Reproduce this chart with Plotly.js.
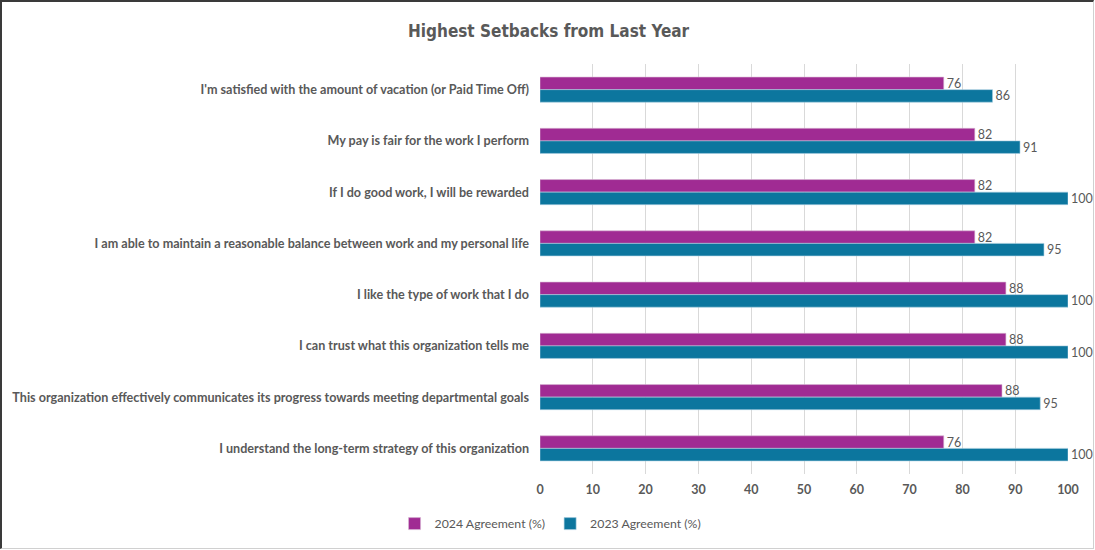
<!DOCTYPE html>
<html>
<head>
<meta charset="utf-8">
<script src="https://cdn.plot.ly/plotly-3.0.1.min.js"></script>
<style>
  html, body { margin: 0; padding: 0; background: #fff; }
  #wrap { position: relative; width: 1095px; height: 550px; }
  #chart { width: 1095px; height: 550px; }
  #frame { position: absolute; left: 0; top: 0; width: 1094px; height: 549px;
           border-top: 2px solid #3a3a3a; border-left: 2px solid #3a3a3a;
           border-right: 1px solid #d0d0d0; border-bottom: 1px solid #d0d0d0;
           box-sizing: border-box; pointer-events: none; }
</style>
</head>
<body>
<div id="wrap"><div id="chart"></div><div id="frame"></div></div>
<script>
const categories = [
  "I'm satisfied with the amount of vacation (or Paid Time Off)",
  "My pay is fair for the work I perform",
  "If I do good work, I will be rewarded",
  "I am able to maintain a reasonable balance between work and my personal life",
  "I like the type of work that I do",
  "I can trust what this organization tells me",
  "This organization effectively communicates its progress towards meeting departmental goals",
  "I understand the long-term strategy of this organization"
];
const agreement2024 = [76.47, 82.35, 82.35, 82.35, 88.24, 88.24, 87.5, 76.47];
const agreement2023 = [85.71, 90.91, 100, 95.45, 100, 100, 94.74, 100];
const seriesNames = ["2024 Agreement (%)", "2023 Agreement (%)"];
const xTicks = [0, 10, 20, 30, 40, 50, 60, 70, 80, 90, 100];

const gray = '#595959';
const labelFont = { family: 'Lato, "Noto Sans", sans-serif', size: 12.5, color: gray };

const traces = [
  {
    type: 'bar', orientation: 'h', name: seriesNames[0],
    y: categories, x: agreement2024,
    marker: { color: '#A02B93', line: { color: '#d9b8d4', width: 0.6 } },
    texttemplate: '%{x:.0f}', textposition: 'outside', cliponaxis: false,
    constraintext: 'none', textfont: labelFont, hoverinfo: 'x+y'
  },
  {
    type: 'bar', orientation: 'h', name: seriesNames[1],
    y: categories, x: agreement2023,
    marker: { color: '#0C769E', line: { color: '#a9cfe0', width: 0.6 } },
    texttemplate: '%{x:.0f}', textposition: 'outside', cliponaxis: false,
    constraintext: 'none', textfont: labelFont, hoverinfo: 'x+y'
  }
];

const layout = {
  width: 1095, height: 550,
  margin: { l: 540, r: 27, t: 64, b: 73, pad: 0 },
  paper_bgcolor: '#fff', plot_bgcolor: '#fff',
  title: {
    text: 'Highest Setbacks from Last Year',
    font: { family: '"DejaVu Sans Condensed", "Liberation Sans Narrow", sans-serif', size: 17, color: gray, weight: 'bold' },
    xref: 'container', x: 0.501, xanchor: 'center',
    yref: 'container', y: 0.944, yanchor: 'middle'
  },
  barmode: 'group', bargap: 0.51, bargroupgap: 0,
  xaxis: {
    range: [0, 100], tickvals: xTicks, ticktext: xTicks.map(String),
    showgrid: true, gridcolor: '#d9d9d9', gridwidth: 1,
    zeroline: false, showline: false, ticks: '',
    tickfont: { family: 'Lato, "Noto Sans", sans-serif', size: 12.5, color: gray, weight: 'bold' },
    ticklabelstandoff: 6, fixedrange: true
  },
  yaxis: {
    type: 'category', autorange: 'reversed',
    showgrid: false, zeroline: false, showline: false, ticks: '',
    tickfont: { family: 'Lato, "Noto Sans", sans-serif', size: 12.6, color: gray, weight: 'bold' },
    ticklabelstandoff: 10, fixedrange: true
  },
  showlegend: true,
  legend: {
    orientation: 'h', xref: 'paper', x: 0.02, xanchor: 'center',
    y: -0.121, yanchor: 'middle',
    font: { family: 'Lato, "Noto Sans", sans-serif', size: 12.3, color: gray },
    itemwidth: 30, tracegroupgap: 0
  }
};

Plotly.newPlot('chart', traces, layout, { displayModeBar: false, staticPlot: true });
</script>
</body>
</html>
